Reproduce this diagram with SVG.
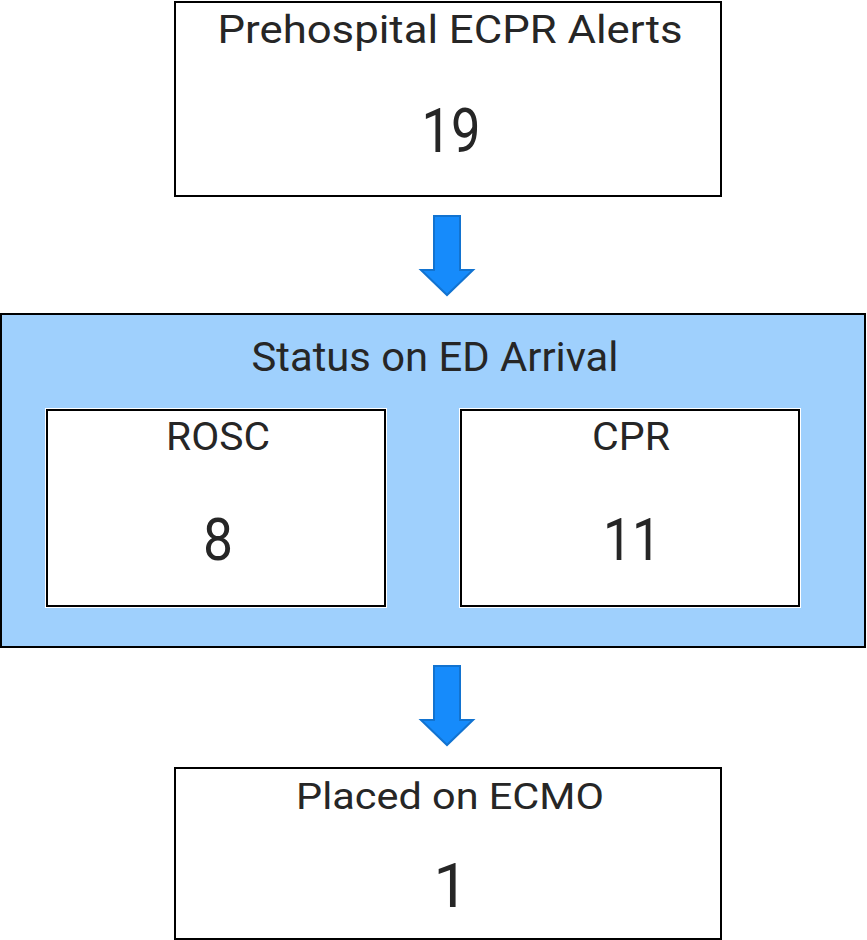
<svg xmlns="http://www.w3.org/2000/svg" width="867" height="940" viewBox="0 0 867 940">
<style>
.box{fill:#fff;stroke:#000;stroke-width:2}
.inner{fill:#fff;stroke:#000;stroke-width:2}
.t{font-family:Roboto,"Liberation Sans",sans-serif;fill:#262626;text-anchor:middle}
.arrow{fill:#168bfb;stroke:#1273d0;stroke-width:2;stroke-linejoin:miter}
</style>
<rect width="867" height="940" fill="#fff"/>
<g id="alerts">
<rect class="box" x="175" y="2" width="546" height="194"/>
<text class="t" x="450" y="43" font-size="38" textLength="465" lengthAdjust="spacingAndGlyphs">Prehospital ECPR Alerts</text>
<text class="t" x="451" y="152" font-size="62" textLength="59" lengthAdjust="spacingAndGlyphs">19</text>
</g>
<g id="status">
<rect x="1" y="314" width="864" height="333" fill="#9fd0fd" stroke="#000" stroke-width="2"/>
<text class="t" x="435" y="371" font-size="40" textLength="367" lengthAdjust="spacingAndGlyphs">Status on ED Arrival</text>
</g>
<g id="rosc">
<rect x="46" y="409" width="340" height="198" fill="none" stroke="#fff" stroke-width="2"/>
<rect class="inner" x="47" y="410" width="338" height="196"/>
<text class="t" x="218" y="450" font-size="38" textLength="104" lengthAdjust="spacingAndGlyphs">ROSC</text>
<text class="t" x="218" y="560" font-size="60" textLength="30" lengthAdjust="spacingAndGlyphs">8</text>
</g>
<g id="cpr">
<rect x="460" y="409" width="340" height="198" fill="none" stroke="#fff" stroke-width="2"/>
<rect class="inner" x="461" y="410" width="338" height="196"/>
<text class="t" x="631" y="450" font-size="38" textLength="78" lengthAdjust="spacingAndGlyphs">CPR</text>
<text class="t" x="632" y="560" font-size="60" textLength="58" lengthAdjust="spacingAndGlyphs">11</text>
</g>
<g id="ecmo">
<rect class="box" x="175" y="768" width="546" height="171"/>
<text class="t" x="450" y="809" font-size="37" textLength="308" lengthAdjust="spacingAndGlyphs">Placed on ECMO</text>
<text class="t" x="451" y="907" font-size="62">1</text>
</g>
<g id="connectors">
<path class="arrow" d="M434 216 H460 V270 H473 L447 295 L421 270 H434 Z"/>
<path class="arrow" d="M434 666 H460 V720 H473 L447 745 L421 720 H434 Z"/>
</g>
</svg>
